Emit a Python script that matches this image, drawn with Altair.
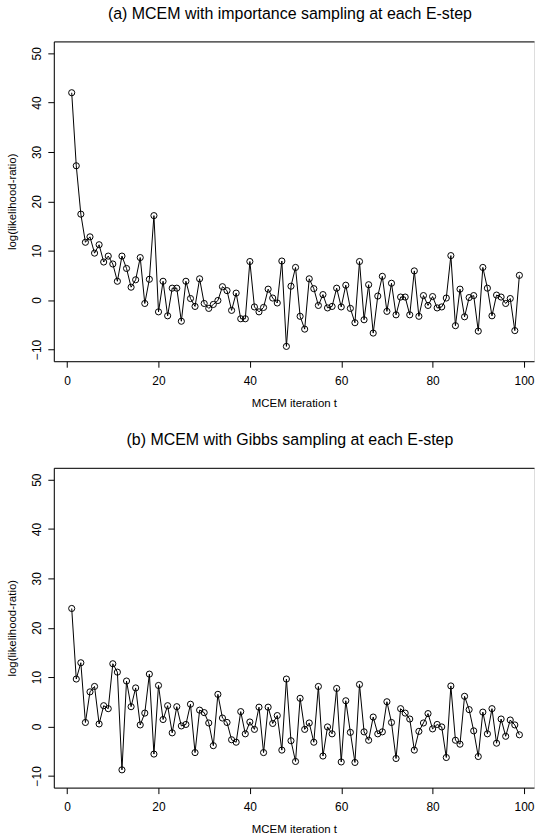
import altair as alt
import pandas as pd

iterations = list(range(1, 100))

importance_vals = [42.0, 27.2, 17.4, 11.7, 12.8, 9.5, 11.2, 7.7, 8.9, 7.3,
                   3.8, 8.9, 6.4, 2.6, 4.1, 8.6, -0.7, 4.2, 17.1, -2.4,
                   3.8, -3.2, 2.4, 2.4, -4.3, 3.8, 0.3, -1.3, 4.3, -0.7,
                   -1.7, -0.9, -0.1, 2.7, 1.9, -2.1, 1.4, -3.8, -3.8, 7.8,
                   -1.4, -2.4, -1.5, 2.2, 0.4, -0.6, 7.9, -9.4, 2.8, 6.6,
                   -3.3, -5.9, 4.3, 2.3, -1.1, 1.1, -1.6, -1.3, 2.4, -1.4,
                   3.0, -1.7, -4.6, 7.8, -4.0, 3.1, -6.7, 0.8, 4.8, -2.3,
                   3.4, -3.0, 0.6, 0.6, -3.0, 5.9, -3.3, 0.9, -1.1, 0.7,
                   -1.6, -1.4, 0.4, 9.0, -5.2, 2.2, -3.4, 0.5, 0.9, -6.3,
                   6.6, 2.4, -3.2, 1.0, 0.6, -0.7, 0.3, -6.2, 5.0]

gibbs_vals = [23.9, 9.6, 12.9, 0.8, 7.0, 8.1, 0.5, 4.2, 3.6, 12.7,
              11.0, -8.8, 9.2, 4.0, 7.8, 0.3, 2.7, 10.6, -5.6, 8.3,
              1.4, 4.2, -1.3, 4.0, 0.1, 0.4, 4.5, -5.3, 3.3, 2.8,
              0.7, -3.9, 6.5, 1.7, 0.8, -2.7, -3.2, 3.0, -1.5, 0.9,
              -0.6, 3.9, -5.3, 3.9, 0.6, 2.2, -4.8, 9.6, -2.9, -7.1,
              5.7, -0.6, 0.7, -3.2, 8.1, -6.0, -0.1, -1.5, 7.7, -7.2,
              5.2, -1.2, -7.3, 8.5, -1.1, -2.8, 1.9, -1.5, -1.1, 5.0,
              0.8, -6.5, 3.6, 2.7, 1.5, -4.8, -1.0, 0.7, 2.6, -0.5,
              0.4, -0.1, -6.3, 8.2, -2.8, -3.6, 6.1, 3.4, -0.9, -6.1,
              2.9, -1.5, 3.6, -3.4, 1.5, -2.0, 1.3, 0.3, -1.7]

titles = ["(a) MCEM with importance sampling at each E-step",
          "(b) MCEM with Gibbs sampling at each E-step"]
x_ticks = [0, 20, 40, 60, 80, 100]
y_ticks = [-10, 0, 10, 20, 30, 40, 50]
x_title = "MCEM iteration t"
y_title = "log(likelihood-ratio)"

FONT = "Liberation Sans"
W, H = 482, 321


def panel(vals, title):
    df = pd.DataFrame({"t": iterations, "v": vals})
    xs = alt.Scale(domain=[-2.92, 102.2], nice=False, zero=False)
    ys = alt.Scale(domain=[-12.4, 52.4], nice=False, zero=False)
    base = alt.Chart(df)
    line = base.mark_line(color="black", strokeWidth=1).encode(
        x=alt.X("t:Q", scale=xs,
                axis=alt.Axis(values=x_ticks, title=x_title, grid=False,
                              tickSize=6, labelPadding=8, titlePadding=11,
                              domainColor="black", tickColor="black",
                              labelFont=FONT, titleFont=FONT, labelFontSize=12,
                              titleFontSize=11.5, titleFontWeight="normal",
                              labelColor="black", titleColor="black")),
        y=alt.Y("v:Q", scale=ys,
                axis=alt.Axis(values=y_ticks, title=y_title, grid=False,
                              tickSize=6, labelPadding=4, labelAngle=-90,
                              labelAlign="center", labelBaseline="bottom",
                              titlePadding=13.5, domainColor="black",
                              tickColor="black", labelFont=FONT, titleFont=FONT,
                              labelFontSize=12, titleFontSize=11.5,
                              titleFontWeight="normal", labelColor="black",
                              titleColor="black")),
    )
    pts = base.mark_point(shape="circle", filled=False, color="black",
                          size=38, strokeWidth=1, opacity=1).encode(
        x=alt.X("t:Q", scale=xs,
                axis=alt.Axis(orient="top", labels=False, ticks=False,
                              title=None, grid=False, domainColor="black")),
        y=alt.Y("v:Q", scale=ys),
    )
    return alt.layer(line, pts).resolve_axis(x="independent").properties(
        width=W, height=H,
        title=alt.TitleParams(title, font=FONT, fontSize=16,
                              fontWeight="normal", color="black", offset=19.5,
                              anchor="middle", dx=-4),
    )


chart = alt.vconcat(panel(importance_vals, titles[0]),
                    panel(gibbs_vals, titles[1]),
                    spacing=23).properties(
    padding={"left": 5, "top": 4, "right": 0, "bottom": 0}
).configure_view(stroke=None).configure(background="white")

chart.save("out.html", embed_options={"renderer": "svg", "actions": False})
